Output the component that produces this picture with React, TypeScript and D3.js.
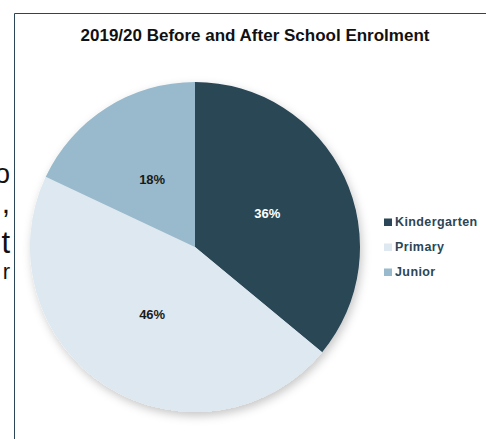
import React from 'react'
import * as d3 from 'd3'

// Enrolment shares by program (percent)
const categories = ['Kindergarten', 'Primary', 'Junior']
const shares = [36, 46, 18]
const sliceColors = ['#2b4657', '#dde8f0', '#99bacc']
const labelColors = ['#ffffff', '#1a1a1a', '#1a1a1a']

// clipped text fragments from the page behind the chart
const sideFragments = [
  { text: 'o', y: 183, size: 27 },
  { text: ',', y: 213, size: 30 },
  { text: 't', y: 253, size: 31 },
  { text: 'r', y: 279, size: 22 }
]

const W = 486
const H = 439
const FONT = 'Arial, "Liberation Sans", sans-serif'

const App: React.FC = () => {
  const cx = 195
  const cy = 247
  const radius = 165

  const pie = d3.pie<number>().sort(null).value(d => d)
  const arcs = pie(shares)
  const arc = d3.arc<d3.PieArcDatum<number>>().innerRadius(0).outerRadius(radius)
  const labelArc = d3.arc<d3.PieArcDatum<number>>().innerRadius(80).outerRadius(80)

  const legendY = d3.scalePoint<string>().domain(categories).range([226, 276])

  return (
    <div style={{ position: 'absolute', left: 0, top: 0 }}>
      <svg width={W} height={H} style={{ display: 'block', background: '#fff' }}>
        <defs>
          <filter id="pieShadow" x="-20%" y="-20%" width="140%" height="140%">
            <feDropShadow dx="2" dy="4" stdDeviation="5" floodColor="#000" floodOpacity="0.22" />
          </filter>
        </defs>

        {sideFragments.map((f, i) => (
          <text key={i} x={10} y={f.y} textAnchor="end" fontSize={f.size} fontFamily={FONT} fill="#111">
            {f.text}
          </text>
        ))}

        {/* chart frame */}
        <line x1={14.5} y1={13.5} x2={W} y2={13.5} stroke="#2b4657" strokeWidth={1} />
        <line x1={14.5} y1={13.5} x2={14.5} y2={H} stroke="#2b4657" strokeWidth={1} />

        <text x={255} y={41} textAnchor="middle" fontSize={17} fontWeight="bold" fontFamily={FONT} fill="#111">
          2019/20 Before and After School Enrolment
        </text>

        <g transform={`translate(${cx},${cy})`}>
          <g filter="url(#pieShadow)">
            {arcs.map((a, i) => (
              <path key={categories[i]} d={arc(a) || ''} fill={sliceColors[i]} />
            ))}
          </g>
          {arcs.map((a, i) => {
            const [lx, ly] = labelArc.centroid(a)
            return (
              <text
                key={'l' + i}
                x={lx}
                y={ly}
                dy="0.35em"
                textAnchor="middle"
                fontSize={13}
                fontWeight="bold"
                fontFamily={FONT}
                fill={labelColors[i]}
              >
                {`${a.data}%`}
              </text>
            )
          })}
        </g>

        <g>
          {categories.map((c, i) => (
            <g key={c} transform={`translate(384,${legendY(c)})`}>
              <rect x={0} y={-7.5} width={8} height={7.5} fill={sliceColors[i]} />
              <text
                x={11}
                y={0}
                fontSize={12.5}
                fontWeight="bold"
                letterSpacing={0.4}
                fontFamily={FONT}
                fill="#2b4657"
              >
                {c}
              </text>
            </g>
          ))}
        </g>
      </svg>
    </div>
  )
}

export default App
